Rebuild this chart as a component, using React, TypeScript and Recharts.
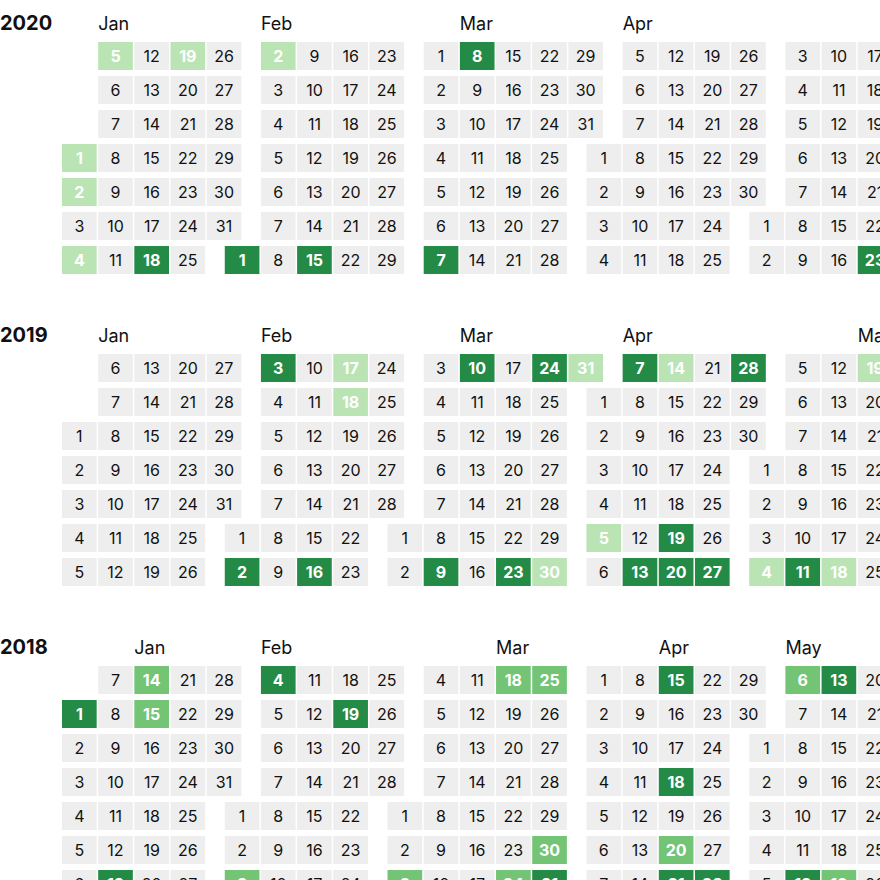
import React from "react";
import { ScatterChart, Scatter, XAxis, YAxis, Customized } from "recharts";

// calendar years shown, top to bottom
const years = [2020, 2019, 2018];
const monthNames = ["Jan", "Feb", "Mar", "Apr", "May"];

// highlighted days: [MM-DD, level] (1 = light, 2 = medium, 3 = dark)
const marked2020: [string, number][] = [
  ["01-01", 1], ["01-02", 1], ["01-04", 1], ["01-05", 1], ["01-18", 3], ["01-19", 1],
  ["02-01", 3], ["02-02", 1], ["02-15", 3],
  ["03-07", 3], ["03-08", 3],
  ["05-23", 3], ["05-24", 3],
];

const marked2019: [string, number][] = [
  ["02-02", 3], ["02-03", 3], ["02-16", 3], ["02-17", 1], ["02-18", 1],
  ["03-09", 3], ["03-10", 3], ["03-23", 3], ["03-24", 3], ["03-30", 1], ["03-31", 1],
  ["04-05", 1], ["04-07", 3], ["04-13", 3], ["04-14", 1], ["04-19", 3], ["04-20", 3], ["04-27", 3], ["04-28", 3],
  ["05-04", 1], ["05-11", 3], ["05-18", 1], ["05-19", 1],
];

const marked2018: [string, number][] = [
  ["01-01", 3], ["01-13", 3], ["01-14", 2], ["01-15", 2],
  ["02-03", 2], ["02-04", 3], ["02-19", 3],
  ["03-03", 2], ["03-18", 2], ["03-24", 2], ["03-25", 2], ["03-30", 2], ["03-31", 3],
  ["04-15", 3], ["04-18", 3], ["04-20", 2], ["04-21", 3], ["04-28", 3],
  ["05-06", 2], ["05-12", 3], ["05-13", 3], ["05-19", 2],
];

const markedByYear: Record<number, [string, number][]> = {
  2020: marked2020,
  2019: marked2019,
  2018: marked2018,
};

const levelColors = ["#eeeeee", "#bae4b3", "#74c476", "#238b45"];

const COL = 36.17;
const CELL_W = 34.67;
const CELL_H = 28;
const LEFT = 61.25;
const TOP = 39;
const CHART_W = 880;
const CHART_H = 312;
const FONT = "Inter, 'Noto Sans', sans-serif";

const pad = (n: number) => String(n).padStart(2, "0");

type Day = { x: number; y: number; day: number; month: number; level: number };

function buildDays(year: number): Day[] {
  const marks = new Map(markedByYear[year]);
  const start = Date.UTC(year, 0, 1);
  const jan1 = new Date(start).getUTCDay();
  const out: Day[] = [];
  for (let m = 0; m < monthNames.length; m++) {
    const len = new Date(Date.UTC(year, m + 1, 0)).getUTCDate();
    for (let d = 1; d <= len; d++) {
      const t = Date.UTC(year, m, d);
      const doy = Math.round((t - start) / 86400000);
      const week = Math.floor((doy + jan1) / 7);
      out.push({
        x: week + m * 0.5,
        y: new Date(t).getUTCDay(),
        day: d,
        month: m,
        level: marks.get(`${pad(m + 1)}-${pad(d)}`) ?? 0,
      });
    }
  }
  return out;
}

// month label sits over the first Sunday with a value, else the first Sunday
function monthLabels(days: Day[]) {
  return monthNames.map((name, m) => {
    const sundays = days.filter((d) => d.month === m && d.y === 0);
    const pick = sundays.find((d) => d.level > 0) ?? sundays[0];
    return { name, x: pick.x };
  });
}

const DayCell = (props: any) => {
  const { cx, cy, payload } = props;
  const lv = payload.level;
  return (
    <g>
      <rect x={cx - CELL_W / 2} y={cy - CELL_H / 2} width={CELL_W} height={CELL_H} fill={levelColors[lv]} />
      <text
        x={cx}
        y={cy + 5.8}
        textAnchor="middle"
        fontSize={16}
        fontFamily={FONT}
        fontWeight={lv ? 700 : 400}
        fill={lv ? "#ffffff" : "#111111"}
      >
        {payload.day}
      </text>
    </g>
  );
};

function YearCalendar({ year }: { year: number }) {
  const days = buildDays(year);
  const labels = monthLabels(days);
  const xMax = -0.5 + (CHART_W - LEFT) / COL;

  const MonthTick = (props: any) => {
    const lab = labels.find((l) => Math.abs(l.x - props.payload.value) < 1e-6);
    return (
      <text x={props.x - CELL_W / 2} y={30} fontSize={18} fontFamily={FONT} fill="#111111">
        {lab ? lab.name : ""}
      </text>
    );
  };

  return (
    <ScatterChart
      width={CHART_W}
      height={CHART_H}
      margin={{ top: 0, right: 0, bottom: CHART_H - TOP - 7 * 34, left: LEFT }}
    >
      <XAxis
        type="number"
        dataKey="x"
        orientation="top"
        domain={[-0.5, xMax]}
        allowDataOverflow
        height={TOP}
        ticks={labels.map((l) => l.x).filter((x) => x < xMax)}
        interval={0}
        axisLine={false}
        tickLine={false}
        tick={MonthTick}
      />
      <YAxis type="number" dataKey="y" domain={[-0.5, 6.5]} reversed hide width={0} />
      <Scatter data={days} shape={DayCell} isAnimationActive={false} />
      <Customized
        component={() => (
          <text x={0} y={30} fontSize={20} fontWeight={700} fontFamily={FONT} fill="#111111">
            {year}
          </text>
        )}
      />
    </ScatterChart>
  );
}

export default function App() {
  return (
    <div style={{ position: "absolute", left: 0, top: 0, width: 880, height: 880, overflow: "hidden", background: "#fff" }}>
      {years.map((y) => (
        <YearCalendar key={y} year={y} />
      ))}
    </div>
  );
}
